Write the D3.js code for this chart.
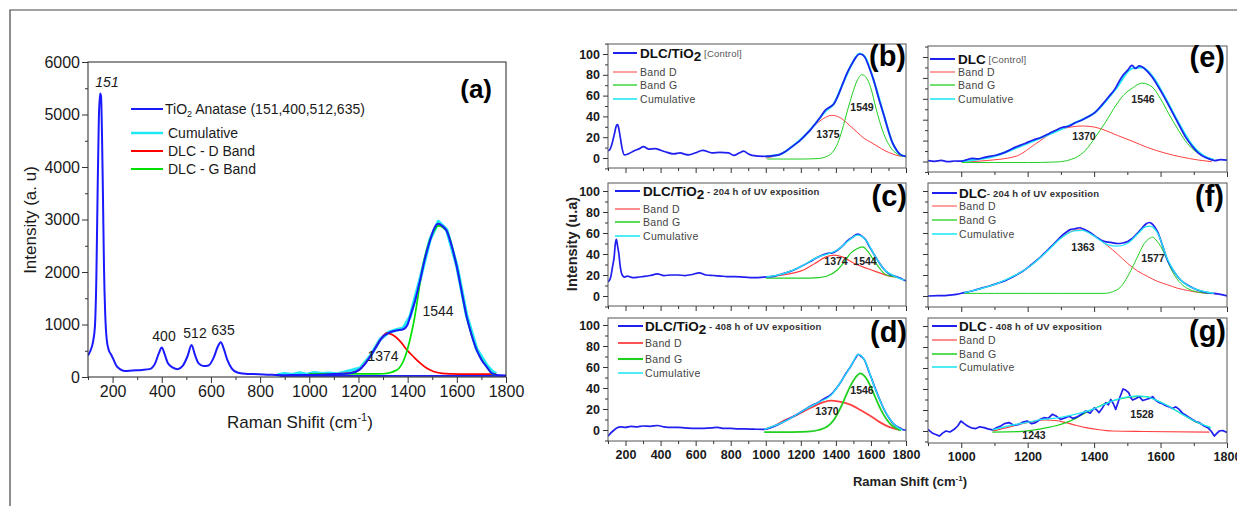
<!DOCTYPE html>
<html>
<head>
<meta charset="utf-8">
<script src="https://cdn.jsdelivr.net/npm/d3@7"></script>
<style>
  body { margin: 0; background: #fff; }
  svg { display: block; font-family: "Liberation Sans", Arial, sans-serif; }
</style>
</head>
<body>
<script>
// ---------- data ----------
// panel (a): TiO2 anatase + DLC fit
const aRaw = [[100,413],[110,500],[120,660],[128,950],[134,1900],[139,3500],[144,4900],[149,5400],[153,5350],[157,4600],[161,3400],[165,2100],[170,1200],[176,720],[184,520],[195,420],[205,320],[215,220],[230,150],[250,115],[280,125],[320,135],[350,150],[372,250],[388,450],[400,560],[412,430],[425,260],[445,180],[465,150],[485,210],[505,400],[521,610],[535,420],[550,260],[570,210],[590,220],[612,380],[628,580],[640,660],[652,540],[667,320],[685,160],[707,86],[740,62],[774,55],[830,45],[896,35],[960,40],[1032,41],[1100,55],[1167,73],[1207,150],[1248,390],[1270,560],[1289,707],[1305,790],[1322,835],[1340,870],[1356,888],[1382,910],[1398,980],[1410,1150],[1430,1450],[1451,1850],[1470,2250],[1491,2600],[1510,2850],[1525,2920],[1540,2880],[1559,2780],[1580,2480],[1600,2100],[1620,1620],[1640,1150],[1660,800],[1681,510],[1700,330],[1722,190],[1740,80],[1760,40],[1800,30]];
const aTail = [[880,22],[1800,22]];
const aCum = [[870,40],[900,60],[930,45],[960,75],[990,50],[1020,80],[1050,60],[1080,70],[1110,55],[1140,85],[1167,120],[1207,170],[1248,400],[1289,720],[1322,850],[1356,900],[1382,930],[1410,1150],[1451,1870],[1491,2620],[1525,2960],[1559,2800],[1600,2120],[1640,1170],[1681,530],[1722,220],[1745,100],[1760,60]];
const aD = [[1000,60],[1100,60],[1167,73],[1207,150],[1248,390],[1289,707],[1316,835],[1340,800],[1370,680],[1397,517],[1425,380],[1451,263],[1480,160],[1505,105],[1540,70],[1573,60],[1650,55],[1760,55]];
const aG = [[1000,60],[1150,60],[1302,62],[1356,133],[1390,390],[1424,1024],[1464,2160],[1505,2770],[1525,2880],[1559,2780],[1600,2100],[1640,1150],[1681,510],[1722,190],[1748,50],[1760,45]];

// panel (b): DLC/TiO2 control
const bRaw = [[100,7],[110,8],[120,12],[135,22],[148,31],[155,32],[162,28],[170,20],[182,8],[193,3],[216,4],[250,7],[280,9],[302,11],[331,8.6],[369,9],[400,7.5],[426,6],[474,4],[512,5],[540,3.5],[560,3],[600,5],[640,7.4],[693,5],[740,5.5],[788,5],[817,2.5],[850,5],[874,6.6],[900,4],[922,2.6],[998,1.6],[1074,3],[1110,6],[1150,11],[1190,16],[1226,22],[1255,27],[1283,33],[1310,39],[1340,46],[1365,49],[1388,52],[1410,59],[1436,70],[1465,82],[1493,91],[1515,97],[1535,100],[1550,99.5],[1565,97],[1590,87],[1617,74],[1645,57],[1674,41],[1700,26],[1722,15],[1745,8],[1770,3],[1800,1.6]];
const bD = [[1000,0],[1100,5],[1150,11],[1200,18],[1245,26],[1290,33],[1340,39],[1375,41],[1400,40.5],[1440,37],[1480,31],[1520,25],[1560,19],[1600,15],[1640,11],[1680,7],[1722,4],[1760,2],[1785,1.6]];
const bG = [[1008,-1],[1100,-1],[1200,-1],[1302,-0.5],[1340,1],[1378,5],[1410,14],[1436,27],[1465,45],[1493,61],[1520,74],[1549,80],[1575,77],[1598,68],[1630,47],[1665,27],[1695,15],[1722,8],[1750,4],[1775,1.5]];
const bCum = [[1000,1.6],[1074,3],[1150,11],[1226,22],[1283,33],[1340,45],[1388,52],[1436,70],[1493,91],[1535,100.5],[1565,97.5],[1617,74],[1674,41],[1722,15],[1770,3],[1800,1.6]];

// panel (c): DLC/TiO2 204 h
const cRaw = [[100,13.6],[108,15],[116,18.4],[126,28],[135,37],[142,50],[148,54],[155,47],[162,40],[170,28],[181,20],[195,18],[210,19],[240,17.5],[267,17.8],[300,18.5],[340,19.5],[382,21],[420,19.5],[460,20],[496,20],[540,19.5],[580,20.5],[620,22],[660,20],[700,19.5],[743,19],[780,18.5],[820,18.5],[877,18],[930,17.5],[991,18],[1050,19],[1105,21.6],[1150,24],[1200,28],[1250,32.5],[1296,37],[1325,39],[1353,40.6],[1380,41],[1410,43.8],[1440,48],[1467,52.7],[1495,56],[1524,59],[1548,57],[1572,53],[1595,46],[1620,39],[1650,31],[1677,25],[1705,21],[1734,19],[1765,17],[1791,15],[1800,14.5]];
const cD = [[1000,18],[1100,20],[1160,22],[1219,25],[1280,31],[1340,37],[1391,39],[1440,37],[1505,31],[1550,28],[1600,25],[1650,22],[1705,19],[1750,18]];
const cG = [[1000,17],[1100,17],[1200,17],[1300,17.5],[1350,19],[1410,25],[1450,33],[1486,41],[1520,45],[1553,46.7],[1580,43],[1610,35.6],[1640,28.5],[1667,22.8],[1690,20],[1715,19],[1750,18]];
const cCum = [[1000,18],[1105,21.6],[1200,28],[1296,37],[1353,40],[1410,44],[1467,52],[1524,58],[1572,53],[1620,39],[1677,25],[1734,19],[1791,15]];

// panel (d): DLC/TiO2 408 h
const dRaw = [[100,-6],[115,-3],[135,0],[150,2],[173,3],[200,2.5],[230,3.5],[267,3],[300,3.8],[340,3.5],[382,4.3],[420,3],[460,2.5],[496,2.5],[540,2],[600,1.5],[648,1.6],[690,2],[724,2.5],[760,1.5],[800,1.5],[839,1],[880,1],[930,0.8],[991,0.6],[1040,3],[1105,8],[1160,13],[1219,19],[1260,23],[1296,26],[1335,30],[1372,33.6],[1400,39],[1429,46],[1458,54],[1486,61],[1510,68],[1528,72],[1545,70],[1562,67],[1590,55],[1620,41.6],[1650,29],[1677,19],[1705,11],[1734,5],[1765,2],[1791,0],[1800,0]];
const dD = [[991,0.6],[1050,4],[1105,9],[1160,13],[1219,18],[1280,23],[1330,26.5],[1372,28],[1420,27],[1486,24],[1540,19],[1600,13],[1650,7.5],[1696,3.5],[1730,1.5],[1763,0]];
const dG = [[991,-2],[1100,-2],[1200,-1.8],[1257,-1.4],[1300,0],[1353,3.5],[1390,10],[1429,22],[1458,33],[1486,43],[1512,50],[1539,54],[1565,51],[1591,44],[1625,31],[1658,19],[1690,10],[1715,5],[1745,1.5],[1772,-0.5]];
const dCum = [[991,0.6],[1105,8],[1219,19],[1296,26],[1372,33],[1429,46],[1486,61],[1528,72],[1562,67],[1620,41],[1677,19],[1734,5],[1780,0]];

// panel (e): DLC control
const eRaw = [[900,0.8],[920,0.2],[940,1],[961,-0.2],[980,0.5],[1001,0.3],[1015,1.5],[1033,3],[1050,2.5],[1070,4],[1104,6],[1130,8.5],[1165,14],[1190,17],[1215,20.4],[1240,23],[1265,26.8],[1285,30],[1303,32.5],[1325,34],[1343,37],[1365,40],[1383,43],[1403,47],[1423,54],[1444,62],[1464,70],[1476,77],[1488,83],[1500,87],[1514,92],[1525,89],[1535,91.5],[1544,90.6],[1558,87],[1574,81],[1594,71],[1614,60],[1634,48],[1654,36],[1674,24],[1694,15],[1714,8],[1734,4],[1750,2],[1764,0.8],[1780,1.8],[1800,1.4]];
const eD = [[1001,-0.6],[1080,1],[1165,5],[1220,16],[1283,29],[1330,33],[1364,34],[1400,33],[1423,31],[1470,25],[1514,19.5],[1560,13.5],[1614,8],[1660,4.5],[1714,1.4],[1754,-0.2]];
const eG = [[1001,-1],[1100,-1],[1200,-1],[1283,-0.5],[1320,1],[1343,3.5],[1375,11],[1403,23],[1435,38],[1464,53],[1490,64],[1514,70],[1544,75],[1574,71.5],[1600,60],[1624,46],[1650,32],[1674,20],[1700,11],[1724,6],[1754,1.7]];
const eCum = [[1001,0.3],[1104,5.5],[1165,13],[1265,26],[1343,37],[1403,47],[1464,69],[1514,89],[1544,90],[1574,82],[1614,61],[1654,37],[1694,16],[1734,4.5],[1760,1.5]];

// panel (f): DLC 204 h
const fRaw = [[900,0],[930,0.3],[958,0.6],[985,1.5],[1009,3.2],[1035,5],[1059,7.3],[1085,9.5],[1109,12],[1135,15],[1160,19],[1185,23.5],[1210,29.5],[1235,36],[1260,43.8],[1280,50],[1300,56.5],[1315,60.5],[1330,63.5],[1342,64],[1355,65],[1370,63.5],[1390,60],[1410,55.5],[1430,52],[1450,51],[1471,50],[1486,50.5],[1501,52],[1516,55],[1531,60],[1545,65],[1556,68.6],[1566,70],[1573,69],[1582,66],[1591,61],[1606,48],[1621,34],[1641,23],[1661,15],[1686,9.5],[1711,5.7],[1736,3.5],[1761,2.5],[1780,1.5],[1800,0]];
const fD = [[1009,3],[1059,7],[1109,12],[1160,19],[1210,29],[1260,43],[1300,55],[1335,62],[1355,63],[1380,61],[1410,55],[1440,48],[1470,40],[1501,31],[1530,24],[1561,18.6],[1590,14],[1621,10.7],[1650,7.5],[1681,5.3],[1712,3.5],[1742,2.5],[1770,2]];
const fG = [[1009,2.5],[1100,2.5],[1200,2.5],[1300,2.5],[1430,2.5],[1455,4],[1481,9],[1500,18],[1521,31],[1536,41],[1551,50],[1563,54],[1576,56],[1590,52],[1601,47],[1616,37],[1631,26],[1650,16],[1672,9],[1697,5],[1722,3.2],[1750,2.5]];
const fCum = [[1009,3.2],[1109,12],[1210,29],[1260,43],[1300,55],[1340,62],[1365,62.5],[1400,57],[1440,49],[1470,47.5],[1500,50],[1531,59],[1556,66],[1568,66.5],[1591,60],[1621,35],[1661,15],[1711,6],[1761,2.5]];

// panel (g): DLC 408 h
const gRaw = [[900,1.6],[914,-2.2],[925,-3.5],[934,-4.8],[944,-2],[954,0],[966,-1],[979,1.6],[990,5],[999,9.5],[1009,7],[1019,4.8],[1030,3],[1044,2.3],[1056,4],[1069,3.2],[1080,2],[1094,1],[1106,3],[1119,4.8],[1130,7],[1144,8],[1158,5.5],[1174,6.3],[1186,8.5],[1199,9.5],[1212,7],[1224,8],[1237,11],[1249,12.7],[1262,12],[1274,15.9],[1287,14],[1299,11],[1312,12.5],[1325,14],[1337,12],[1350,13.6],[1362,16],[1375,19],[1388,17],[1400,22],[1408,20],[1415,17.5],[1425,22],[1435,27],[1443,25],[1450,30],[1458,26],[1465,20.6],[1475,30],[1487,40],[1495,39],[1504,36.5],[1510,32],[1516,29.5],[1526,31],[1536,32.7],[1546,29],[1556,30],[1566,31],[1576,32.7],[1586,29],[1596,27],[1606,26],[1616,24],[1626,23],[1636,21.5],[1646,23],[1656,20.6],[1666,17],[1676,15],[1686,13],[1696,11],[1706,9],[1717,8],[1730,5],[1742,3.2],[1752,0],[1762,-4.8],[1770,-2],[1777,0],[1787,0.5],[1797,-1],[1800,-1]];
const gD = [[1094,0],[1134,3],[1174,6.3],[1214,9],[1254,10.5],[1285,10],[1315,8],[1345,5.5],[1375,3.2],[1415,1.2],[1455,0],[1550,-0.5],[1747,-1]];
const gG = [[1094,-1],[1174,-0.6],[1220,1],[1254,3],[1285,5],[1315,8],[1345,12],[1375,17.5],[1405,22],[1435,26.3],[1465,29.5],[1496,31.7],[1526,32.7],[1556,32.7],[1586,29.5],[1616,25],[1646,19.5],[1676,14],[1700,9.5],[1726,6],[1752,3]];
const gCum = [[1094,1],[1144,5],[1194,8],[1245,11],[1295,12.7],[1345,16],[1395,20.6],[1425,24.5],[1455,28.6],[1480,31],[1506,32.7],[1530,33.5],[1556,32.7],[1586,29.5],[1616,25],[1646,19.5],[1676,14],[1700,10],[1726,6.3],[1752,3.2]];

// tick values
const aXMajor = [200, 400, 600, 800, 1000, 1200, 1400, 1600, 1800];
const aXMinor = [100, 300, 500, 700, 900, 1100, 1300, 1500, 1700];
const aYMajor = [0, 1000, 2000, 3000, 4000, 5000, 6000];
const aYMinor = [500, 1500, 2500, 3500, 4500, 5500];
const midXMajor = [200, 400, 600, 800, 1000, 1200, 1400, 1600, 1800];
const midXMinor = [100, 300, 500, 700, 900, 1100, 1300, 1500, 1700];
const rightXMajor = [1000, 1200, 1400, 1600, 1800];
const rightXMinor = [900, 1100, 1300, 1500, 1700];
const smallYMajor = [0, 20, 40, 60, 80, 100];
const smallYMinor = [-10, 10, 30, 50, 70, 90, 110];

// ---------- drawing ----------
const W = 1237, H = 506;
const FONT = '"Liberation Sans", Arial, sans-serif';
const BLUE = "#1f1fef", RED = "#ff4040", GREEN = "#1fd01f", CYAN = "#22e8f5";

const svg = d3.select("body").append("svg")
  .attr("width", W).attr("height", H);

// outer frame of the figure
svg.append("path")
  .attr("d", `M10,${H}V10H${W}`)
  .attr("fill", "none").attr("stroke", "#444").attr("stroke-width", 1.2);

let clipId = 0;

function drawPanel(p) {
  const x = d3.scaleLinear().domain(p.xDomain).range(p.xRange);
  const y = d3.scaleLinear().domain(p.yDomain).range(p.yRange);
  const [top, bottom] = p.box;
  const [left, right] = p.xRange;
  const g = svg.append("g");

  const id = "clip" + (clipId++);
  svg.append("clipPath").attr("id", id)
    .append("rect").attr("x", left).attr("y", top)
    .attr("width", right - left).attr("height", bottom - top);

  const plot = g.append("g").attr("clip-path", `url(#${id})`);
  p.series.forEach(s => {
    const line = d3.line()
      .x(d => x(d[0])).y(d => y(d[1]))
      .curve(s.curve || d3.curveMonotoneX);
    plot.append("path")
      .datum(s.data)
      .attr("d", line)
      .attr("fill", "none")
      .attr("stroke", s.color)
      .attr("stroke-width", s.width)
      .attr("stroke-linejoin", "round");
  });

  // border
  g.append("rect")
    .attr("x", left).attr("y", top)
    .attr("width", right - left).attr("height", bottom - top)
    .attr("fill", "none").attr("stroke", p.frame || "#333").attr("stroke-width", 1);

  const inBox = v => y(v) >= top - 0.5 && y(v) <= bottom + 0.5;

  // x axis
  const xMaj = g.append("g").attr("transform", `translate(0,${bottom})`)
    .call(d3.axisBottom(x).tickValues(p.xMajor).tickSize(p.tickMaj)
      .tickPadding(p.xPad).tickFormat(p.xLabels ? d3.format("d") : ""));
  g.append("g").attr("transform", `translate(0,${bottom})`)
    .call(d3.axisBottom(x).tickValues(p.xMinor).tickSize(p.tickMin).tickFormat(""));

  // y axis
  const yMaj = g.append("g").attr("transform", `translate(${left},0)`)
    .call(d3.axisLeft(y).tickValues(p.yMajor.filter(inBox)).tickSize(p.tickMaj)
      .tickPadding(p.yPad).tickFormat(p.yLabels ? d3.format("d") : ""));
  g.append("g").attr("transform", `translate(${left},0)`)
    .call(d3.axisLeft(y).tickValues(p.yMinor.filter(inBox)).tickSize(p.tickMin).tickFormat(""));

  g.selectAll(".domain").remove();
  g.selectAll(".tick line").attr("stroke", "#333");
  g.selectAll(".tick text")
    .attr("font-family", FONT)
    .attr("font-size", p.tickFont)
    .attr("font-weight", p.tickWeight)
    .attr("fill", "#1a1a1a");
  return { g, x, y };
}

// ---------- panel (a) ----------
const pa = drawPanel({
  xDomain: [100, 1800], xRange: [88, 506],
  yDomain: [0, 6000], yRange: [377, 62], box: [62, 377],
  xMajor: aXMajor, xMinor: aXMinor, yMajor: aYMajor, yMinor: aYMinor,
  xLabels: true, yLabels: true, tickMaj: 6, tickMin: 3, xPad: 3, yPad: 2,
  tickFont: 16, tickWeight: "normal", frame: "#222",
  series: [
    { data: aCum, color: CYAN, width: 3.5, curve: d3.curveLinear },
    { data: aTail, color: BLUE, width: 1.6 },
    { data: aD, color: "#ff0000", width: 1.7 },
    { data: aG, color: "#00e000", width: 1.7 },
    { data: aRaw, color: "#1a1aff", width: 2 }
  ]
});

const ta = (txt, x, y, size, opts = {}) => svg.append("text")
  .attr("x", x).attr("y", y)
  .attr("font-family", FONT).attr("font-size", size)
  .attr("font-weight", opts.weight || "normal")
  .attr("font-style", opts.style || "normal")
  .attr("text-anchor", opts.anchor || "start")
  .attr("fill", opts.fill || "#1a1a1a")
  .text(txt);

ta("151", 107, 87, 14, { style: "italic", anchor: "middle" });
ta("400", 164, 341, 14, { anchor: "middle" });
ta("512", 195, 338, 14, { anchor: "middle" });
ta("635", 223, 335, 14, { anchor: "middle" });
ta("1374", 383, 361, 14, { anchor: "middle" });
ta("1544", 438, 316, 14, { anchor: "middle" });
ta("(a)", 492, 98, 26, { weight: "bold", anchor: "end", fill: "#000" });

// legend (a)
const aLegend = [
  { y: 109, color: "#1a1aff", w: 2 },
  { y: 133, color: CYAN, w: 2.5, label: "Cumulative" },
  { y: 151, color: "#ff0000", w: 2, label: "DLC - D Band" },
  { y: 169, color: "#00e000", w: 2, label: "DLC - G Band" }
];
aLegend.forEach(l => {
  svg.append("line").attr("x1", 131).attr("x2", 163)
    .attr("y1", l.y).attr("y2", l.y)
    .attr("stroke", l.color).attr("stroke-width", l.w);
  if (l.label) ta(l.label, 168, l.y + 5, 14);
});
const tio2 = ta("", 165, 114, 14);
tio2.append("tspan").text("TiO");
tio2.append("tspan").attr("font-size", 9).attr("dy", 3).text("2");
tio2.append("tspan").attr("dy", -3).text(" Anatase (151,400,512,635)");

// axis titles (a)
ta("Intensity (a. u)", 0, 0, 17, { anchor: "middle" })
  .attr("transform", "translate(36,220) rotate(-90)");
const xa = ta("Raman Shifit (cm", 300, 428, 17, { anchor: "middle" });
xa.append("tspan").attr("font-size", 11).attr("dy", -7).text("-1");
xa.append("tspan").attr("dy", 7).text(")");

// ---------- small panels ----------
const MID_X = [608, 906], RIGHT_X = [928, 1227];

const panels = [
  { tag: "(b)", xr: MID_X, dom: [100, 1800], y0: 158, y100: 54, box: [44, 168],
    raw: bRaw, D: bD, G: bG, C: bCum, mid: true, xLabels: false, fitW: 1,
    tagX: 906, tagY: 66, lx: [613, 637], tx: 640, rows: [53, 72, 85, 99],
    main: "DLC/TiO", sub: true, rest: " [Control]", restBold: false,
    peaks: [["1375", 828, 138], ["1549", 862, 111]] },
  { tag: "(c)", xr: MID_X, dom: [100, 1800], y0: 296, y100: 191, box: [183, 306],
    raw: cRaw, D: cD, G: cG, C: cCum, mid: true, xLabels: false, fitW: 1.2,
    tagX: 907, tagY: 206, lx: [615, 640], tx: 643, rows: [191, 209, 222, 236],
    main: "DLC/TiO", sub: true, rest: " - 204 h of UV exposition", restBold: true,
    peaks: [["1374", 836, 265], ["1544", 865, 265]] },
  { tag: "(d)", xr: MID_X, dom: [100, 1800], y0: 430, y100: 325, box: [318, 441],
    raw: dRaw, D: dD, G: dG, C: dCum, mid: true, xLabels: true, fitW: 1.8,
    tagX: 907, tagY: 342, lx: [618, 643], tx: 645, rows: [326, 343, 359, 373],
    main: "DLC/TiO", sub: true, rest: " - 408 h of UV exposition", restBold: true,
    peaks: [["1370", 827, 415], ["1546", 862, 394]] },
  { tag: "(e)", xr: RIGHT_X, dom: [900, 1800], y0: 161.5, y100: 57, box: [46, 172],
    raw: eRaw, D: eD, G: eG, C: eCum, mid: false, xLabels: false, fitW: 1,
    tagX: 1225, tagY: 67, lx: [930, 955], tx: 958, rows: [59, 72, 85, 99],
    main: "DLC", sub: false, rest: " [Control]", restBold: false,
    peaks: [["1370", 1084, 140], ["1546", 1143, 103]] },
  { tag: "(f)", xr: RIGHT_X, dom: [900, 1800], y0: 296, y100: 191, box: [183, 307],
    raw: fRaw, D: fD, G: fG, C: fCum, mid: false, xLabels: false, fitW: 1,
    tagX: 1224, tagY: 206, lx: [932, 957], tx: 959, rows: [193, 206, 220, 234],
    main: "DLC", sub: false, rest: "- 204 h of UV exposition", restBold: true,
    peaks: [["1363", 1083, 251], ["1577", 1153, 262]] },
  { tag: "(g)", xr: RIGHT_X, dom: [900, 1800], y0: 431, y100: 326, box: [318, 443],
    raw: gRaw, D: gD, G: gG, C: gCum, mid: false, xLabels: true, fitW: 1.2, noisy: true,
    tagX: 1226, tagY: 341, lx: [932, 957], tx: 959, rows: [326, 340, 354, 367],
    main: "DLC", sub: false, rest: " - 408 h of UV exposition", restBold: true,
    peaks: [["1243", 1034, 439], ["1528", 1142, 418]] }
];

panels.forEach(p => {
  const cyanTop = p.tag !== "(b)" && p.tag !== "(e)";
  const rawS = { data: p.raw, color: BLUE, width: 1.7,
    curve: p.noisy ? d3.curveLinear : d3.curveMonotoneX };
  const cumS = { data: p.C, color: CYAN, width: cyanTop ? 1.3 : 2.2 };
  const series = [
    { data: p.D, color: RED, width: p.fitW },
    { data: p.G, color: GREEN, width: p.fitW }
  ].concat(cyanTop ? [rawS, cumS] : [cumS, rawS]);

  drawPanel({
    xDomain: p.dom, xRange: p.xr,
    yDomain: [0, 100], yRange: [p.y0, p.y100], box: p.box,
    xMajor: p.mid ? midXMajor : rightXMajor, xMinor: p.mid ? midXMinor : rightXMinor,
    yMajor: smallYMajor, yMinor: smallYMinor,
    xLabels: p.xLabels, yLabels: p.mid, tickMaj: 5, tickMin: 3, xPad: 4, yPad: 3,
    tickFont: 12.5, tickWeight: "bold", frame: "#555",
    series
  });

  ta(p.tag, p.tagX, p.tagY, 29, { weight: "bold", anchor: "end", fill: "#000" });

  // legend
  const [lx0, lx1] = p.lx;
  const items = [
    { color: BLUE, w: 2 },
    { color: RED, w: p.fitW, label: "Band D" },
    { color: GREEN, w: p.fitW + 0.3, label: "Band G" },
    { color: CYAN, w: 1.6, label: "Cumulative" }
  ];
  items.forEach((it, i) => {
    const yy = p.rows[i];
    svg.append("line").attr("x1", lx0).attr("x2", lx1)
      .attr("y1", yy).attr("y2", yy)
      .attr("stroke", it.color).attr("stroke-width", it.w);
    if (it.label) ta(it.label, p.tx, yy + 4, 10.5, { fill: "#444" })
      .attr("letter-spacing", 0.3);
  });
  const t = ta("", p.tx, p.rows[0] + 5, 13.5, { weight: "bold", fill: "#111" });
  t.append("tspan").text(p.main);
  if (p.sub) t.append("tspan").attr("dy", 3).text("2");
  t.append("tspan")
    .attr("dy", p.sub ? -4 : -1)
    .attr("font-size", 9.5)
    .attr("font-weight", p.restBold ? "bold" : "normal")
    .attr("fill", p.restBold ? "#333" : "#555")
    .attr("letter-spacing", 0.2)
    .text(p.rest);

  p.peaks.forEach(([lab, px, py]) =>
    ta(lab, px, py, 10.5, { weight: "bold", anchor: "middle", fill: "#222" }));
});

// shared titles for the small panels
ta("Intensity (u.a)", 0, 0, 14.5, { weight: "bold", anchor: "middle", fill: "#222" })
  .attr("transform", "translate(577,244) rotate(-90)");
const xs = ta("Raman Shift (cm", 910, 486, 13, { weight: "bold", anchor: "middle", fill: "#222" });
xs.append("tspan").attr("font-size", 8).attr("dy", -5).text("-1");
xs.append("tspan").attr("dy", 5).text(")");
</script>
</body>
</html>
